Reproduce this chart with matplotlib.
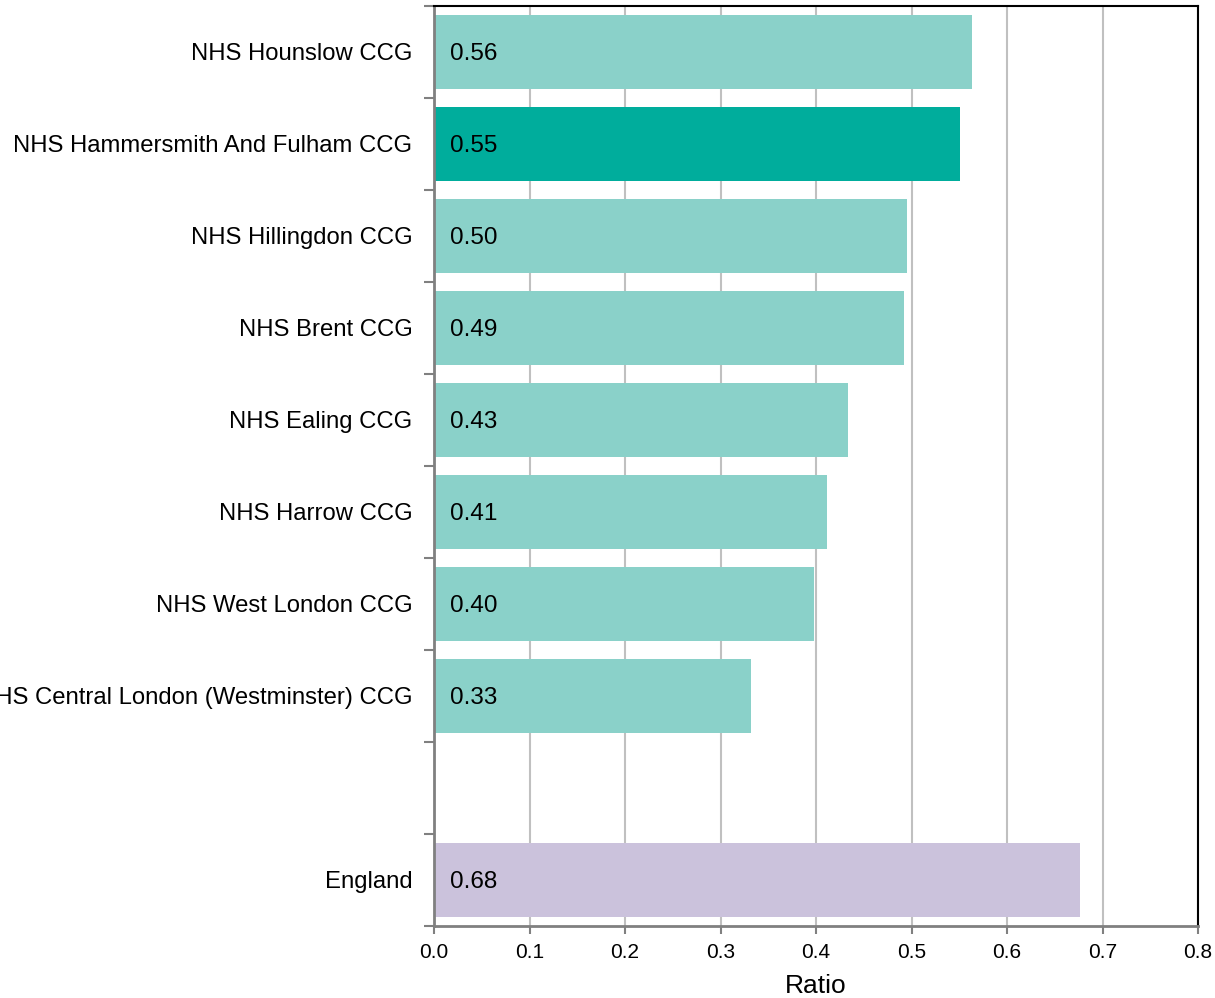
import matplotlib
matplotlib.use("Agg")
import matplotlib.pyplot as plt
from matplotlib.ticker import FixedLocator, MultipleLocator

plt.rcParams['font.family'] = ['Liberation Sans', 'DejaVu Sans']

categories = ["NHS Hounslow CCG", "NHS Hammersmith And Fulham CCG", "NHS Hillingdon CCG",
              "NHS Brent CCG", "NHS Ealing CCG", "NHS Harrow CCG", "NHS West London CCG",
              "NHS Central London (Westminster) CCG", "", "England"]
values = [0.563, 0.551, 0.495, 0.492, 0.433, 0.412, 0.398, 0.332, None, 0.676]
labels = ["0.56", "0.55", "0.50", "0.49", "0.43", "0.41", "0.40", "0.33", "", "0.68"]
colors = ["#8ad1c9", "#00ad9c", "#8ad1c9", "#8ad1c9", "#8ad1c9", "#8ad1c9", "#8ad1c9",
          "#8ad1c9", "#ffffff", "#cbc2dc"]

fig = plt.figure(figsize=(12.15, 9.98), dpi=100)
ax = fig.add_axes([434/1215, 72/998, (1198-434)/1215, (926-6)/998])

pos = list(range(len(categories)))
for i, (v, c, lab) in enumerate(zip(values, colors, labels)):
    if v is None:
        continue
    ax.barh(i, v, height=0.81, color=c, zorder=2)
    ax.annotate(lab, xy=(0, i), xytext=(11.5, 0), textcoords="offset points",
                ha="left", va="center_baseline", fontsize=17.5, color="black", zorder=3)

ax.set_ylim(len(categories) - 0.5, -0.5)
ax.set_xlim(0, 0.8)
ax.set_yticks(pos)
ax.set_yticklabels(categories, fontsize=17.2)
ax.tick_params(axis='y', which='major', length=0, pad=15.5)
ax.yaxis.set_minor_locator(FixedLocator([p - 0.5 for p in range(len(categories) + 1)]))
ax.tick_params(axis='y', which='minor', length=7, width=1.5, color="#808080")

ax.xaxis.set_major_locator(MultipleLocator(0.1))
ax.set_xticklabels([f"{x:.1f}" for x in ax.get_xticks()], fontsize=15)
ax.tick_params(axis='x', which='major', length=6, width=1.5, color="#808080", pad=6)
ax.set_xlabel("Ratio", fontsize=19, labelpad=9)

ax.grid(axis='x', color="#c0c0c0", linewidth=1.5, zorder=0)
ax.set_axisbelow(True)

for s in ["left", "bottom"]:
    ax.spines[s].set_color("#808080")
    ax.spines[s].set_linewidth(2)
for s in ["top", "right"]:
    ax.spines[s].set_color("black")
    ax.spines[s].set_linewidth(1.5)

fig.savefig("out.png", dpi=100)
